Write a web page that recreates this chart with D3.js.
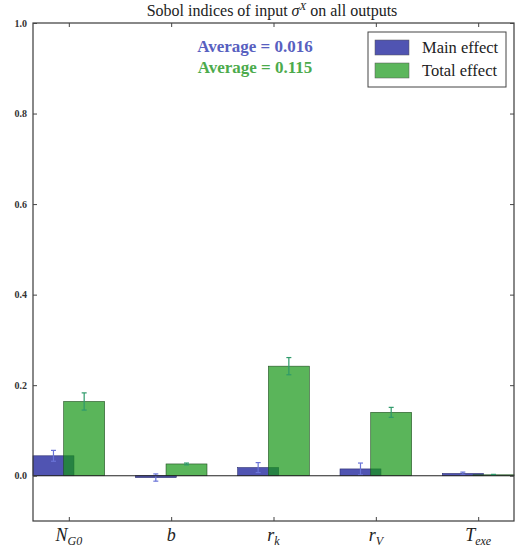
<!DOCTYPE html>
<html><head><meta charset="utf-8">
<script src="https://cdn.jsdelivr.net/npm/d3@7"></script>
<style>body{margin:0;background:#fff}svg{display:block}</style>
</head><body>
<script>
const categories = ["N_G0","b","r_k","r_V","T_exe"];
const mainEffect = [0.044, -0.004, 0.018, 0.015, 0.005];
const mainErr    = [0.012, 0.008, 0.011, 0.013, 0.003];
const totalEffect = [0.164, 0.026, 0.242, 0.140, 0.002];
const totalErr    = [0.019, 0.002, 0.019, 0.011, 0.001];
const yTicks = [0.0, 0.2, 0.4, 0.6, 0.8, 1.0];

const W = 517, H = 548;
const m = {left: 33, top: 23, right: 514, bottom: 521};
const svg = d3.select("body").append("svg").attr("width", W).attr("height", H);

const x = d3.scaleLinear().domain([-0.35, 4.35]).range([m.left, m.right]);
const y = d3.scaleLinear().domain([-0.1, 1.0]).range([m.bottom, m.top]);

const serif = "'Liberation Serif','DejaVu Serif',serif";
const blue = "#5054b2", green = "rgba(20,150,20,0.7)";
const bw = 0.4;

// main bars
svg.append("g").selectAll("rect").data(mainEffect).join("rect")
  .attr("x", (d,i) => x(i - 0.35)).attr("width", (d,i) => x(i - 0.35 + bw) - x(i - 0.35))
  .attr("y", d => y(Math.max(0,d))).attr("height", d => Math.abs(y(0) - y(d)))
  .attr("fill", blue).attr("stroke", "#2a2d70").attr("stroke-width", 0.6);
// total bars
svg.append("g").selectAll("rect").data(totalEffect).join("rect")
  .attr("x", (d,i) => x(i - 0.05)).attr("width", (d,i) => x(i - 0.05 + bw) - x(i - 0.05))
  .attr("y", d => y(Math.max(0,d))).attr("height", d => Math.abs(y(0) - y(d)))
  .attr("fill", green).attr("stroke", "#1f4d1f").attr("stroke-width", 0.6);

// error bars
function errbars(vals, errs, off, col) {
  const g = svg.append("g").attr("stroke", col).attr("stroke-width", 1.2);
  vals.forEach((v,i) => {
    const cx = x(i + off);
    g.append("line").attr("x1", cx).attr("x2", cx).attr("y1", y(v - errs[i])).attr("y2", y(v + errs[i]));
    g.append("line").attr("x1", cx-2.5).attr("x2", cx+2.5).attr("y1", y(v + errs[i])).attr("y2", y(v + errs[i]));
    g.append("line").attr("x1", cx-2.5).attr("x2", cx+2.5).attr("y1", y(v - errs[i])).attr("y2", y(v - errs[i]));
  });
}
errbars(mainEffect, mainErr, -0.15, "#6a74d8");
errbars(totalEffect, totalErr, 0.15, "#2e9a6a");

// zero line
svg.append("line").attr("x1", m.left).attr("x2", m.right).attr("y1", y(0)).attr("y2", y(0))
  .attr("stroke", "#222").attr("stroke-width", 1.2);

// frame
svg.append("rect").attr("x", m.left).attr("y", m.top).attr("width", m.right - m.left).attr("height", m.bottom - m.top)
  .attr("fill", "none").attr("stroke", "#3a3a3a").attr("stroke-width", 1.2);

// y axis
const yAx = svg.append("g").attr("transform", `translate(${m.left},0)`)
  .call(d3.axisLeft(y).tickValues(yTicks).tickSize(-4).tickFormat(d3.format(".1f")).tickPadding(6));
yAx.select(".domain").remove();
yAx.selectAll("text").attr("font-family", serif).attr("font-size", 10).attr("font-weight", "bold").attr("fill", "#333");
yAx.selectAll("line").attr("stroke", "#444");
const yAxR = svg.append("g").attr("transform", `translate(${m.right},0)`)
  .call(d3.axisRight(y).tickValues(yTicks).tickSize(-4).tickFormat(""));
yAxR.select(".domain").remove();
yAxR.selectAll("line").attr("stroke", "#444");

// x axis ticks
const xAx = svg.append("g").attr("transform", `translate(0,${m.bottom})`)
  .call(d3.axisBottom(x).tickValues(d3.range(categories.length)).tickSize(-4).tickFormat(""));
xAx.select(".domain").remove();
xAx.selectAll("line").attr("stroke", "#444");
const xAxT = svg.append("g").attr("transform", `translate(0,${m.top})`)
  .call(d3.axisTop(x).tickValues(d3.range(categories.length)).tickSize(-4).tickFormat(""));
xAxT.select(".domain").remove();
xAxT.selectAll("line").attr("stroke", "#444");

// x labels with subscripts
const labs = svg.append("g").attr("font-family", serif).attr("font-style", "italic").attr("font-size", 18).attr("fill", "#222");
categories.forEach((c,i) => {
  const [base, sub] = c.split("_");
  const t = labs.append("text").attr("x", x(i)).attr("y", m.bottom + 20).attr("text-anchor", "middle");
  t.append("tspan").text(base);
  if (sub) t.append("tspan").attr("font-size", 12).attr("dy", 4).text(sub);
});

// title
const title = svg.append("text").attr("x", 272).attr("y", 16).attr("text-anchor", "middle")
  .attr("font-family", serif).attr("font-size", 16).attr("fill", "#222");
title.append("tspan").text("Sobol indices of input ");
title.append("tspan").attr("font-style", "italic").text("σ");
title.append("tspan").attr("font-style", "italic").attr("font-size", 11).attr("dy", -6).text("X");
title.append("tspan").attr("dy", 6).text(" on all outputs");

// averages
const avgMain = d3.mean(mainEffect), avgTotal = d3.mean(totalEffect);
svg.append("text").attr("x", 255).attr("y", 52).attr("text-anchor", "middle")
  .attr("font-family", serif).attr("font-size", 17).attr("font-weight", "bold").attr("fill", "#5860c0")
  .text("Average = " + d3.format(".3f")(avgMain));
svg.append("text").attr("x", 255).attr("y", 73).attr("text-anchor", "middle")
  .attr("font-family", serif).attr("font-size", 17).attr("font-weight", "bold").attr("fill", "#4cab4c")
  .text("Average = " + d3.format(".3f")(avgTotal));

// legend
const lg = svg.append("g");
lg.append("rect").attr("x", 368).attr("y", 32).attr("width", 138).attr("height", 55)
  .attr("fill", "#fff").attr("stroke", "#444").attr("stroke-width", 1);
const legItems = [["Main effect", blue, 40], ["Total effect", "#5cb65c", 63]];
legItems.forEach(([t, c, yy]) => {
  lg.append("rect").attr("x", 375).attr("y", yy).attr("width", 34).attr("height", 15).attr("fill", c).attr("stroke", "#555").attr("stroke-width", 0.5);
  lg.append("text").attr("x", 422).attr("y", yy + 13).attr("font-family", serif).attr("font-size", 16.5).attr("fill", "#222").text(t);
});
</script>
</body></html>
